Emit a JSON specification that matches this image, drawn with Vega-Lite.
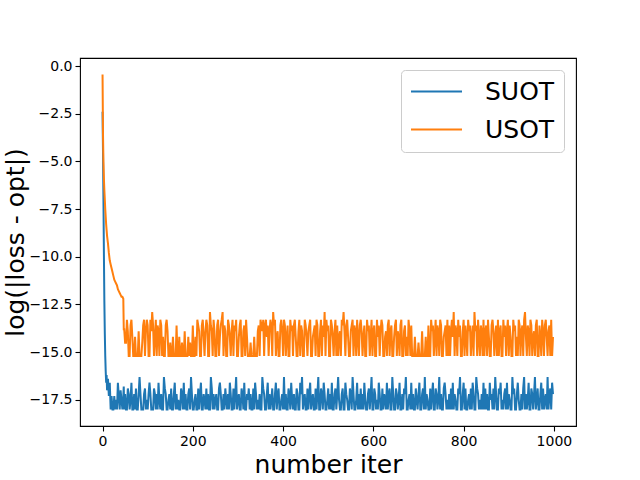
{
"$schema": "https://vega.github.io/schema/vega-lite/v6.json",
"autosize": {"type": "none"},
"padding": {"left": 80, "top": 58, "right": 64, "bottom": 54},
"width": 496,
"height": 368,
"background": "white",
"config": {"font": "DejaVu Sans", "view": {"stroke": "black", "strokeWidth": 1.1}},
"data": {"values": [
{"i":0,"SUOT":-2.4,"USOT":-0.45},{"i":1,"SUOT":-4.5,"USOT":-3.6},{"i":2,"SUOT":-7.0,"USOT":-5.0},{"i":3,"SUOT":-9.8,"USOT":-5.9},{"i":4,"SUOT":-12.3,"USOT":-6.5},{"i":5,"SUOT":-14.0,"USOT":-7.0},{"i":6,"SUOT":-15.2,"USOT":-7.5},{"i":7,"SUOT":-16.0,"USOT":-7.9},{"i":8,"SUOT":-16.6,"USOT":-8.3},{"i":9,"SUOT":-16.2,"USOT":-8.6},{"i":10,"SUOT":-17.0,"USOT":-8.9},{"i":12,"SUOT":-16.4,"USOT":-9.3},{"i":14,"SUOT":-17.3,"USOT":-9.8},{"i":16,"SUOT":-16.6,"USOT":-10.2},{"i":18,"SUOT":-18.0,"USOT":-10.4},{"i":20,"SUOT":-17.3,"USOT":-10.6},{"i":22,"SUOT":-18.0,"USOT":-10.8},{"i":24,"SUOT":-18.0,"USOT":-11.0},{"i":26,"SUOT":-17.3,"USOT":-11.2},{"i":28,"SUOT":-18.0,"USOT":-11.3},{"i":30,"SUOT":-17.5,"USOT":-11.4},{"i":32,"SUOT":-18.0,"USOT":-11.5},{"i":34,"SUOT":-16.6,"USOT":-11.7},{"i":36,"SUOT":-17.3,"USOT":-11.8},{"i":38,"SUOT":-18.0,"USOT":-11.9},{"i":40,"SUOT":-17.0,"USOT":-12.0},{"i":42,"SUOT":-17.5,"USOT":-12.1},{"i":44,"SUOT":-18.0,"USOT":-12.1},{"i":46,"SUOT":-17.3,"USOT":-12.2},{"i":47,"SUOT":-16.8,"USOT":-13.8},
{"i":48,"SUOT":-18,"USOT":-13.8},{"i":50,"SUOT":-17.2,"USOT":-14.5},{"i":52,"SUOT":-18,"USOT":-14.5},{"i":54,"SUOT":-18,"USOT":-13.3},{"i":56,"SUOT":-16.9,"USOT":-13.9},{"i":58,"SUOT":-17.2,"USOT":-15.2},{"i":60,"SUOT":-18,"USOT":-15.2},{"i":62,"SUOT":-17.5,"USOT":-13.6},{"i":64,"SUOT":-16.6,"USOT":-13.3},{"i":66,"SUOT":-18,"USOT":-14.2},{"i":68,"SUOT":-18,"USOT":-15.2},{"i":70,"SUOT":-17.2,"USOT":-15.2},{"i":72,"SUOT":-18,"USOT":-14.2},{"i":74,"SUOT":-16.9,"USOT":-15.2},{"i":76,"SUOT":-18,"USOT":-15.2},{"i":78,"SUOT":-18,"USOT":-15.2},{"i":80,"SUOT":-17.2,"USOT":-13.9},{"i":82,"SUOT":-16.3,"USOT":-15.2},{"i":84,"SUOT":-17.2,"USOT":-15.2},{"i":86,"SUOT":-18,"USOT":-15.2},
{"i":88,"SUOT":-18,"USOT":-14.5},{"i":90,"SUOT":-18,"USOT":-13.6},{"i":92,"SUOT":-17.2,"USOT":-13.3},{"i":94,"SUOT":-16.9,"USOT":-15.2},{"i":96,"SUOT":-18,"USOT":-13.9},{"i":98,"SUOT":-17.5,"USOT":-13.3},{"i":100,"SUOT":-18,"USOT":-13.6},{"i":102,"SUOT":-17.2,"USOT":-15.2},{"i":104,"SUOT":-16.6,"USOT":-15.2},{"i":106,"SUOT":-17.2,"USOT":-13.3},{"i":108,"SUOT":-18,"USOT":-13.9},{"i":110,"SUOT":-18,"USOT":-12.9},{"i":112,"SUOT":-18,"USOT":-13.6},{"i":114,"SUOT":-16.9,"USOT":-15.2},{"i":116,"SUOT":-17.2,"USOT":-14.2},{"i":118,"SUOT":-18,"USOT":-13.3},{"i":120,"SUOT":-17.2,"USOT":-15.2},{"i":122,"SUOT":-18,"USOT":-13.6},{"i":124,"SUOT":-16.6,"USOT":-13.9},{"i":126,"SUOT":-17.5,"USOT":-15.2},
{"i":128,"SUOT":-18,"USOT":-13.3},{"i":130,"SUOT":-17.2,"USOT":-13.6},{"i":132,"SUOT":-18,"USOT":-15.2},{"i":134,"SUOT":-18,"USOT":-14.2},{"i":136,"SUOT":-16.3,"USOT":-15.2},{"i":138,"SUOT":-16.9,"USOT":-15.2},{"i":140,"SUOT":-17.2,"USOT":-13.6},{"i":142,"SUOT":-18,"USOT":-13.3},{"i":144,"SUOT":-18,"USOT":-13.9},{"i":146,"SUOT":-17.5,"USOT":-15.2},{"i":148,"SUOT":-17.2,"USOT":-15.2},{"i":150,"SUOT":-18,"USOT":-14.5},{"i":152,"SUOT":-16.9,"USOT":-15.2},{"i":154,"SUOT":-18,"USOT":-15.2},{"i":156,"SUOT":-18,"USOT":-14.2},{"i":158,"SUOT":-17.2,"USOT":-15.2},{"i":160,"SUOT":-16.6,"USOT":-15.2},{"i":162,"SUOT":-18,"USOT":-15.2},{"i":164,"SUOT":-17.2,"USOT":-13.6},{"i":166,"SUOT":-18,"USOT":-15.2},
{"i":168,"SUOT":-17.5,"USOT":-15.2},{"i":170,"SUOT":-18,"USOT":-14.2},{"i":172,"SUOT":-18,"USOT":-15.2},{"i":174,"SUOT":-16.9,"USOT":-15.2},{"i":176,"SUOT":-17.2,"USOT":-14.5},{"i":178,"SUOT":-18,"USOT":-15.2},{"i":180,"SUOT":-16.6,"USOT":-15.2},{"i":182,"SUOT":-18,"USOT":-13.9},{"i":184,"SUOT":-17.2,"USOT":-15.2},{"i":186,"SUOT":-18,"USOT":-15.2},{"i":188,"SUOT":-18,"USOT":-15.2},{"i":190,"SUOT":-17.2,"USOT":-14.2},{"i":192,"SUOT":-16.9,"USOT":-15.2},{"i":194,"SUOT":-18,"USOT":-14.5},{"i":196,"SUOT":-16.3,"USOT":-15.2},{"i":198,"SUOT":-17.2,"USOT":-15.2},{"i":200,"SUOT":-18,"USOT":-13.6},{"i":202,"SUOT":-18,"USOT":-15.2},{"i":204,"SUOT":-17.5,"USOT":-15.2},{"i":206,"SUOT":-17.2,"USOT":-14.2},
{"i":208,"SUOT":-18,"USOT":-15.2},{"i":210,"SUOT":-18,"USOT":-13.3},{"i":212,"SUOT":-16.9,"USOT":-13.6},{"i":214,"SUOT":-18,"USOT":-13.9},{"i":216,"SUOT":-17.2,"USOT":-15.2},{"i":218,"SUOT":-16.6,"USOT":-15.2},{"i":220,"SUOT":-18,"USOT":-13.6},{"i":222,"SUOT":-18,"USOT":-13.3},{"i":224,"SUOT":-17.2,"USOT":-14.2},{"i":226,"SUOT":-17.5,"USOT":-15.2},{"i":228,"SUOT":-18,"USOT":-13.9},{"i":230,"SUOT":-16.9,"USOT":-13.3},{"i":232,"SUOT":-18,"USOT":-13.6},{"i":234,"SUOT":-17.2,"USOT":-15.2},{"i":236,"SUOT":-18,"USOT":-15.2},{"i":238,"SUOT":-18,"USOT":-12.9},{"i":240,"SUOT":-16.3,"USOT":-13.6},{"i":242,"SUOT":-16.9,"USOT":-13.9},{"i":244,"SUOT":-18,"USOT":-15.2},{"i":246,"SUOT":-17.2,"USOT":-13.3},
{"i":248,"SUOT":-18,"USOT":-13.9},{"i":250,"SUOT":-17.5,"USOT":-15.2},{"i":252,"SUOT":-17.2,"USOT":-15.2},{"i":254,"SUOT":-18,"USOT":-13.6},{"i":256,"SUOT":-18,"USOT":-13.3},{"i":258,"SUOT":-16.9,"USOT":-15.2},{"i":260,"SUOT":-16.6,"USOT":-14.2},{"i":262,"SUOT":-17.2,"USOT":-13.6},{"i":264,"SUOT":-18,"USOT":-13.3},{"i":266,"SUOT":-18,"USOT":-12.9},{"i":268,"SUOT":-17.2,"USOT":-15.2},{"i":270,"SUOT":-18,"USOT":-13.6},{"i":272,"SUOT":-16.9,"USOT":-13.9},{"i":274,"SUOT":-17.5,"USOT":-15.2},{"i":276,"SUOT":-18,"USOT":-15.2},{"i":278,"SUOT":-17.2,"USOT":-13.3},{"i":280,"SUOT":-18,"USOT":-13.6},{"i":282,"SUOT":-16.6,"USOT":-14.2},{"i":284,"SUOT":-17.2,"USOT":-15.2},{"i":286,"SUOT":-18,"USOT":-13.9},
{"i":288,"SUOT":-18,"USOT":-13.3},{"i":290,"SUOT":-16.9,"USOT":-15.2},{"i":292,"SUOT":-18,"USOT":-13.6},{"i":294,"SUOT":-17.2,"USOT":-13.9},{"i":296,"SUOT":-16.3,"USOT":-13.3},{"i":298,"SUOT":-18,"USOT":-15.2},{"i":300,"SUOT":-17.5,"USOT":-15.2},{"i":302,"SUOT":-17.2,"USOT":-14.2},{"i":304,"SUOT":-18,"USOT":-13.6},{"i":306,"SUOT":-18,"USOT":-13.3},{"i":308,"SUOT":-16.9,"USOT":-15.2},{"i":310,"SUOT":-17.2,"USOT":-15.2},{"i":312,"SUOT":-18,"USOT":-13.9},{"i":314,"SUOT":-16.6,"USOT":-13.6},{"i":316,"SUOT":-18,"USOT":-15.2},{"i":318,"SUOT":-18,"USOT":-13.3},{"i":320,"SUOT":-17.2,"USOT":-14.2},{"i":322,"SUOT":-17.5,"USOT":-15.2},{"i":324,"SUOT":-16.9,"USOT":-15.2},{"i":326,"SUOT":-18,"USOT":-15.2},
{"i":328,"SUOT":-17.2,"USOT":-14.5},{"i":330,"SUOT":-18,"USOT":-15.2},{"i":332,"SUOT":-18,"USOT":-15.2},{"i":334,"SUOT":-16.9,"USOT":-15.2},{"i":336,"SUOT":-18,"USOT":-14.2},{"i":338,"SUOT":-16.6,"USOT":-15.2},{"i":340,"SUOT":-17.2,"USOT":-15.2},{"i":342,"SUOT":-18,"USOT":-15.2},{"i":344,"SUOT":-17.5,"USOT":-13.9},{"i":346,"SUOT":-18,"USOT":-13.6},{"i":348,"SUOT":-17.2,"USOT":-15.2},{"i":350,"SUOT":-18,"USOT":-13.3},{"i":352,"SUOT":-18,"USOT":-13.6},{"i":354,"SUOT":-16.3,"USOT":-13.9},{"i":356,"SUOT":-16.9,"USOT":-13.3},{"i":358,"SUOT":-17.2,"USOT":-15.2},{"i":360,"SUOT":-18,"USOT":-13.6},{"i":362,"SUOT":-18,"USOT":-13.3},{"i":364,"SUOT":-17.2,"USOT":-14.2},{"i":366,"SUOT":-16.6,"USOT":-13.6},
{"i":368,"SUOT":-18,"USOT":-15.2},{"i":370,"SUOT":-17.2,"USOT":-13.9},{"i":372,"SUOT":-18,"USOT":-13.3},{"i":374,"SUOT":-17.5,"USOT":-13.6},{"i":376,"SUOT":-16.9,"USOT":-15.2},{"i":378,"SUOT":-18,"USOT":-12.9},{"i":380,"SUOT":-18,"USOT":-13.6},{"i":382,"SUOT":-17.2,"USOT":-13.3},{"i":384,"SUOT":-16.6,"USOT":-15.2},{"i":386,"SUOT":-18,"USOT":-14.2},{"i":388,"SUOT":-17.2,"USOT":-13.9},{"i":390,"SUOT":-16.9,"USOT":-15.2},{"i":392,"SUOT":-18,"USOT":-15.2},{"i":394,"SUOT":-18,"USOT":-13.6},{"i":396,"SUOT":-17.5,"USOT":-13.3},{"i":398,"SUOT":-17.2,"USOT":-13.9},{"i":400,"SUOT":-18,"USOT":-15.2},{"i":402,"SUOT":-16.3,"USOT":-13.3},{"i":404,"SUOT":-18,"USOT":-13.6},{"i":406,"SUOT":-17.2,"USOT":-15.2},
{"i":408,"SUOT":-18,"USOT":-14.2},{"i":410,"SUOT":-18,"USOT":-13.6},{"i":412,"SUOT":-16.9,"USOT":-15.2},{"i":414,"SUOT":-17.2,"USOT":-15.2},{"i":416,"SUOT":-18,"USOT":-13.3},{"i":418,"SUOT":-16.6,"USOT":-13.9},{"i":420,"SUOT":-17.5,"USOT":-13.6},{"i":422,"SUOT":-18,"USOT":-15.2},{"i":424,"SUOT":-17.2,"USOT":-13.6},{"i":426,"SUOT":-18,"USOT":-13.3},{"i":428,"SUOT":-18,"USOT":-14.2},{"i":430,"SUOT":-16.9,"USOT":-15.2},{"i":432,"SUOT":-17.2,"USOT":-15.2},{"i":434,"SUOT":-18,"USOT":-13.9},{"i":436,"SUOT":-18,"USOT":-13.3},{"i":438,"SUOT":-16.6,"USOT":-15.2},{"i":440,"SUOT":-17.2,"USOT":-13.6},{"i":442,"SUOT":-16.3,"USOT":-13.9},{"i":444,"SUOT":-18,"USOT":-15.2},{"i":446,"SUOT":-17.5,"USOT":-15.2},
{"i":448,"SUOT":-17.2,"USOT":-13.3},{"i":450,"SUOT":-18,"USOT":-13.6},{"i":452,"SUOT":-18,"USOT":-14.2},{"i":454,"SUOT":-16.9,"USOT":-15.2},{"i":456,"SUOT":-18,"USOT":-13.9},{"i":458,"SUOT":-17.2,"USOT":-13.6},{"i":460,"SUOT":-16.6,"USOT":-13.3},{"i":462,"SUOT":-18,"USOT":-15.2},{"i":464,"SUOT":-17.5,"USOT":-15.2},{"i":466,"SUOT":-17.2,"USOT":-14.2},{"i":468,"SUOT":-18,"USOT":-13.9},{"i":470,"SUOT":-18,"USOT":-13.6},{"i":472,"SUOT":-16.9,"USOT":-15.2},{"i":474,"SUOT":-18,"USOT":-13.3},{"i":476,"SUOT":-17.2,"USOT":-13.6},{"i":478,"SUOT":-16.3,"USOT":-15.2},{"i":480,"SUOT":-18,"USOT":-15.2},{"i":482,"SUOT":-18,"USOT":-13.9},{"i":484,"SUOT":-16.9,"USOT":-13.3},{"i":486,"SUOT":-17.2,"USOT":-15.2},
{"i":488,"SUOT":-18,"USOT":-13.6},{"i":490,"SUOT":-16.6,"USOT":-14.2},{"i":492,"SUOT":-17.2,"USOT":-12.9},{"i":494,"SUOT":-18,"USOT":-15.2},{"i":496,"SUOT":-18,"USOT":-13.3},{"i":498,"SUOT":-17.5,"USOT":-13.9},{"i":500,"SUOT":-16.9,"USOT":-13.6},{"i":502,"SUOT":-18,"USOT":-15.2},{"i":504,"SUOT":-17.2,"USOT":-15.2},{"i":506,"SUOT":-18,"USOT":-13.3},{"i":508,"SUOT":-16.6,"USOT":-13.6},{"i":510,"SUOT":-18,"USOT":-14.2},{"i":512,"SUOT":-18,"USOT":-15.2},{"i":514,"SUOT":-17.2,"USOT":-13.9},{"i":516,"SUOT":-16.9,"USOT":-13.3},{"i":518,"SUOT":-18,"USOT":-15.2},{"i":520,"SUOT":-17.2,"USOT":-13.6},{"i":522,"SUOT":-16.3,"USOT":-15.2},{"i":524,"SUOT":-17.5,"USOT":-14.2},{"i":526,"SUOT":-18,"USOT":-13.9},
{"i":528,"SUOT":-18,"USOT":-15.2},{"i":530,"SUOT":-17.2,"USOT":-13.3},{"i":532,"SUOT":-16.9,"USOT":-13.6},{"i":534,"SUOT":-18,"USOT":-12.9},{"i":536,"SUOT":-18,"USOT":-13.9},{"i":538,"SUOT":-16.6,"USOT":-15.2},{"i":540,"SUOT":-17.2,"USOT":-13.6},{"i":542,"SUOT":-17.5,"USOT":-13.3},{"i":544,"SUOT":-18,"USOT":-14.2},{"i":546,"SUOT":-18,"USOT":-15.2},{"i":548,"SUOT":-16.9,"USOT":-15.2},{"i":550,"SUOT":-17.2,"USOT":-13.9},{"i":552,"SUOT":-18,"USOT":-13.6},{"i":554,"SUOT":-16.3,"USOT":-13.3},{"i":556,"SUOT":-17.2,"USOT":-15.2},{"i":558,"SUOT":-18,"USOT":-13.6},{"i":560,"SUOT":-18,"USOT":-13.9},{"i":562,"SUOT":-17.5,"USOT":-15.2},{"i":564,"SUOT":-16.6,"USOT":-13.3},{"i":566,"SUOT":-18,"USOT":-14.2},
{"i":568,"SUOT":-17.2,"USOT":-15.2},{"i":570,"SUOT":-18,"USOT":-13.6},{"i":572,"SUOT":-16.9,"USOT":-13.3},{"i":574,"SUOT":-18,"USOT":-13.9},{"i":576,"SUOT":-17.2,"USOT":-15.2},{"i":578,"SUOT":-18,"USOT":-14.2},{"i":580,"SUOT":-16.6,"USOT":-13.6},{"i":582,"SUOT":-17.5,"USOT":-15.2},{"i":584,"SUOT":-18,"USOT":-15.2},{"i":586,"SUOT":-18,"USOT":-13.3},{"i":588,"SUOT":-17.2,"USOT":-13.9},{"i":590,"SUOT":-16.9,"USOT":-13.6},{"i":592,"SUOT":-18,"USOT":-15.2},{"i":594,"SUOT":-17.2,"USOT":-14.2},{"i":596,"SUOT":-16.3,"USOT":-13.3},{"i":598,"SUOT":-18,"USOT":-15.2},{"i":600,"SUOT":-18,"USOT":-13.9},{"i":602,"SUOT":-16.9,"USOT":-13.6},{"i":604,"SUOT":-17.2,"USOT":-15.2},{"i":606,"SUOT":-18,"USOT":-15.2},
{"i":608,"SUOT":-17.5,"USOT":-13.3},{"i":610,"SUOT":-18,"USOT":-14.2},{"i":612,"SUOT":-16.6,"USOT":-13.6},{"i":614,"SUOT":-17.2,"USOT":-15.2},{"i":616,"SUOT":-18,"USOT":-13.9},{"i":618,"SUOT":-18,"USOT":-13.3},{"i":620,"SUOT":-16.9,"USOT":-13.6},{"i":622,"SUOT":-18,"USOT":-15.2},{"i":624,"SUOT":-17.2,"USOT":-15.2},{"i":626,"SUOT":-17.5,"USOT":-14.2},{"i":628,"SUOT":-18,"USOT":-13.9},{"i":630,"SUOT":-16.6,"USOT":-15.2},{"i":632,"SUOT":-18,"USOT":-13.6},{"i":634,"SUOT":-17.2,"USOT":-13.3},{"i":636,"SUOT":-16.9,"USOT":-15.2},{"i":638,"SUOT":-18,"USOT":-13.9},{"i":640,"SUOT":-18,"USOT":-13.6},{"i":642,"SUOT":-16.3,"USOT":-15.2},{"i":644,"SUOT":-17.2,"USOT":-15.2},{"i":646,"SUOT":-18,"USOT":-14.2},
{"i":648,"SUOT":-18,"USOT":-13.6},{"i":650,"SUOT":-16.9,"USOT":-13.3},{"i":652,"SUOT":-17.2,"USOT":-15.2},{"i":654,"SUOT":-18,"USOT":-13.9},{"i":656,"SUOT":-17.5,"USOT":-14.2},{"i":658,"SUOT":-16.6,"USOT":-15.2},{"i":660,"SUOT":-18,"USOT":-13.6},{"i":662,"SUOT":-18,"USOT":-13.3},{"i":664,"SUOT":-17.2,"USOT":-15.2},{"i":666,"SUOT":-18,"USOT":-15.2},{"i":668,"SUOT":-16.9,"USOT":-13.9},{"i":670,"SUOT":-17.2,"USOT":-13.6},{"i":672,"SUOT":-16.3,"USOT":-15.2},{"i":674,"SUOT":-18,"USOT":-14.2},{"i":676,"SUOT":-18,"USOT":-15.2},{"i":678,"SUOT":-17.5,"USOT":-13.3},{"i":680,"SUOT":-17.2,"USOT":-13.9},{"i":682,"SUOT":-18,"USOT":-15.2},{"i":684,"SUOT":-16.6,"USOT":-13.6},{"i":686,"SUOT":-18,"USOT":-15.2},
{"i":688,"SUOT":-17.2,"USOT":-15.2},{"i":690,"SUOT":-18,"USOT":-15.2},{"i":692,"SUOT":-18,"USOT":-14.2},{"i":694,"SUOT":-16.9,"USOT":-15.2},{"i":696,"SUOT":-17.5,"USOT":-15.2},{"i":698,"SUOT":-18,"USOT":-15.2},{"i":700,"SUOT":-17.2,"USOT":-14.5},{"i":702,"SUOT":-16.6,"USOT":-15.2},{"i":704,"SUOT":-18,"USOT":-15.2},{"i":706,"SUOT":-18,"USOT":-15.2},{"i":708,"SUOT":-17.2,"USOT":-13.9},{"i":710,"SUOT":-16.9,"USOT":-15.2},{"i":712,"SUOT":-18,"USOT":-15.2},{"i":714,"SUOT":-16.3,"USOT":-15.2},{"i":716,"SUOT":-18,"USOT":-14.2},{"i":718,"SUOT":-17.2,"USOT":-15.2},{"i":720,"SUOT":-17.5,"USOT":-15.2},{"i":722,"SUOT":-18,"USOT":-13.6},{"i":724,"SUOT":-18,"USOT":-15.2},{"i":726,"SUOT":-16.9,"USOT":-15.2},
{"i":728,"SUOT":-18,"USOT":-13.3},{"i":730,"SUOT":-17.2,"USOT":-13.9},{"i":732,"SUOT":-16.6,"USOT":-13.6},{"i":734,"SUOT":-18,"USOT":-15.2},{"i":736,"SUOT":-18,"USOT":-14.2},{"i":738,"SUOT":-16.9,"USOT":-13.3},{"i":740,"SUOT":-17.2,"USOT":-15.2},{"i":742,"SUOT":-18,"USOT":-13.6},{"i":744,"SUOT":-17.5,"USOT":-13.9},{"i":746,"SUOT":-16.3,"USOT":-15.2},{"i":748,"SUOT":-18,"USOT":-13.3},{"i":750,"SUOT":-17.2,"USOT":-13.6},{"i":752,"SUOT":-18,"USOT":-15.2},{"i":754,"SUOT":-18,"USOT":-15.2},{"i":756,"SUOT":-16.9,"USOT":-14.2},{"i":758,"SUOT":-16.6,"USOT":-13.9},{"i":760,"SUOT":-17.2,"USOT":-13.6},{"i":762,"SUOT":-18,"USOT":-15.2},{"i":764,"SUOT":-17.5,"USOT":-13.3},{"i":766,"SUOT":-18,"USOT":-15.2},
{"i":768,"SUOT":-17.2,"USOT":-13.6},{"i":770,"SUOT":-18,"USOT":-15.2},{"i":772,"SUOT":-16.9,"USOT":-13.9},{"i":774,"SUOT":-18,"USOT":-13.3},{"i":776,"SUOT":-16.6,"USOT":-14.2},{"i":778,"SUOT":-18,"USOT":-12.9},{"i":780,"SUOT":-17.2,"USOT":-15.2},{"i":782,"SUOT":-17.5,"USOT":-13.6},{"i":784,"SUOT":-18,"USOT":-13.9},{"i":786,"SUOT":-18,"USOT":-15.2},{"i":788,"SUOT":-16.9,"USOT":-13.3},{"i":790,"SUOT":-17.2,"USOT":-14.2},{"i":792,"SUOT":-16.3,"USOT":-13.6},{"i":794,"SUOT":-18,"USOT":-15.2},{"i":796,"SUOT":-18,"USOT":-15.2},{"i":798,"SUOT":-17.2,"USOT":-13.9},{"i":800,"SUOT":-16.6,"USOT":-13.3},{"i":802,"SUOT":-18,"USOT":-15.2},{"i":804,"SUOT":-16.9,"USOT":-13.6},{"i":806,"SUOT":-18,"USOT":-14.2},
{"i":808,"SUOT":-18,"USOT":-15.2},{"i":810,"SUOT":-17.5,"USOT":-13.3},{"i":812,"SUOT":-17.2,"USOT":-13.9},{"i":814,"SUOT":-18,"USOT":-13.6},{"i":816,"SUOT":-16.9,"USOT":-15.2},{"i":818,"SUOT":-18,"USOT":-14.2},{"i":820,"SUOT":-16.6,"USOT":-13.6},{"i":822,"SUOT":-17.2,"USOT":-15.2},{"i":824,"SUOT":-18,"USOT":-12.9},{"i":826,"SUOT":-18,"USOT":-13.9},{"i":828,"SUOT":-16.3,"USOT":-13.6},{"i":830,"SUOT":-16.9,"USOT":-15.2},{"i":832,"SUOT":-17.2,"USOT":-13.3},{"i":834,"SUOT":-18,"USOT":-14.2},{"i":836,"SUOT":-17.5,"USOT":-15.2},{"i":838,"SUOT":-18,"USOT":-13.6},{"i":840,"SUOT":-17.2,"USOT":-13.9},{"i":842,"SUOT":-18,"USOT":-15.2},{"i":844,"SUOT":-16.6,"USOT":-13.3},{"i":846,"SUOT":-18,"USOT":-15.2},
{"i":848,"SUOT":-16.9,"USOT":-13.9},{"i":850,"SUOT":-18,"USOT":-13.6},{"i":852,"SUOT":-17.2,"USOT":-15.2},{"i":854,"SUOT":-18,"USOT":-13.3},{"i":856,"SUOT":-18,"USOT":-14.2},{"i":858,"SUOT":-16.6,"USOT":-15.2},{"i":860,"SUOT":-17.5,"USOT":-15.2},{"i":862,"SUOT":-17.2,"USOT":-13.6},{"i":864,"SUOT":-18,"USOT":-13.3},{"i":866,"SUOT":-16.9,"USOT":-13.9},{"i":868,"SUOT":-18,"USOT":-15.2},{"i":870,"SUOT":-16.3,"USOT":-14.2},{"i":872,"SUOT":-17.2,"USOT":-13.6},{"i":874,"SUOT":-18,"USOT":-15.2},{"i":876,"SUOT":-18,"USOT":-13.3},{"i":878,"SUOT":-16.9,"USOT":-15.2},{"i":880,"SUOT":-17.2,"USOT":-13.9},{"i":882,"SUOT":-16.6,"USOT":-13.6},{"i":884,"SUOT":-18,"USOT":-15.2},{"i":886,"SUOT":-17.5,"USOT":-15.2},
{"i":888,"SUOT":-18,"USOT":-13.3},{"i":890,"SUOT":-17.2,"USOT":-14.2},{"i":892,"SUOT":-16.9,"USOT":-13.6},{"i":894,"SUOT":-18,"USOT":-15.2},{"i":896,"SUOT":-16.6,"USOT":-13.9},{"i":898,"SUOT":-18,"USOT":-13.3},{"i":900,"SUOT":-17.2,"USOT":-15.2},{"i":902,"SUOT":-17.5,"USOT":-13.6},{"i":904,"SUOT":-18,"USOT":-14.2},{"i":906,"SUOT":-18,"USOT":-15.2},{"i":908,"SUOT":-16.3,"USOT":-15.2},{"i":910,"SUOT":-17.2,"USOT":-13.3},{"i":912,"SUOT":-16.9,"USOT":-13.9},{"i":914,"SUOT":-18,"USOT":-13.6},{"i":916,"SUOT":-18,"USOT":-15.2},{"i":918,"SUOT":-17.2,"USOT":-14.2},{"i":920,"SUOT":-16.6,"USOT":-15.2},{"i":922,"SUOT":-17.5,"USOT":-13.3},{"i":924,"SUOT":-18,"USOT":-13.6},{"i":926,"SUOT":-18,"USOT":-15.2},
{"i":928,"SUOT":-17.2,"USOT":-13.9},{"i":930,"SUOT":-18,"USOT":-13.6},{"i":932,"SUOT":-16.9,"USOT":-15.2},{"i":934,"SUOT":-16.3,"USOT":-13.3},{"i":936,"SUOT":-18,"USOT":-12.9},{"i":938,"SUOT":-17.2,"USOT":-14.2},{"i":940,"SUOT":-18,"USOT":-15.2},{"i":942,"SUOT":-17.5,"USOT":-13.6},{"i":944,"SUOT":-16.6,"USOT":-13.9},{"i":946,"SUOT":-18,"USOT":-15.2},{"i":948,"SUOT":-18,"USOT":-13.3},{"i":950,"SUOT":-16.9,"USOT":-13.6},{"i":952,"SUOT":-17.2,"USOT":-15.2},{"i":954,"SUOT":-18,"USOT":-14.2},{"i":956,"SUOT":-17.2,"USOT":-13.9},{"i":958,"SUOT":-16.3,"USOT":-15.2},{"i":960,"SUOT":-18,"USOT":-13.6},{"i":962,"SUOT":-17.5,"USOT":-13.3},{"i":964,"SUOT":-16.9,"USOT":-15.2},{"i":966,"SUOT":-18,"USOT":-15.2},
{"i":968,"SUOT":-18,"USOT":-13.6},{"i":970,"SUOT":-17.2,"USOT":-14.2},{"i":972,"SUOT":-16.6,"USOT":-15.2},{"i":974,"SUOT":-18,"USOT":-13.3},{"i":976,"SUOT":-16.9,"USOT":-13.9},{"i":978,"SUOT":-18,"USOT":-15.2},{"i":980,"SUOT":-17.5,"USOT":-13.6},{"i":982,"SUOT":-17.2,"USOT":-13.3},{"i":984,"SUOT":-18,"USOT":-14.2},{"i":986,"SUOT":-16.3,"USOT":-15.2},{"i":988,"SUOT":-18,"USOT":-13.9},{"i":990,"SUOT":-17.2,"USOT":-13.6},{"i":992,"SUOT":-16.9,"USOT":-15.2},{"i":994,"SUOT":-18,"USOT":-13.3},{"i":996,"SUOT":-16.6,"USOT":-15.2},{"i":998,"SUOT":-17.2,"USOT":-14.2}
]},
"transform": [{"fold": ["SUOT", "USOT"], "as": ["series", "value"]}],
"mark": {"type": "line", "strokeWidth": 2, "clip": true},
"encoding": {
"x": {"field": "i", "type": "quantitative", "scale": {"domain": [-49.95, 1048.95], "nice": false, "zero": false},
  "axis": {"title": "number iter", "values": [0, 200, 400, 600, 800, 1000], "format": "d", "grid": false, "domain": false, "tickColor": "black", "tickSize": 5, "tickWidth": 1.1, "labelColor": "black", "labelFontSize": 14, "labelPadding": 3, "titleFontSize": 25, "titleFontWeight": "normal", "titleColor": "black", "titlePadding": 4}},
"y": {"field": "value", "type": "quantitative", "scale": {"domain": [-18.87, 0.42], "nice": false, "zero": false},
  "axis": {"title": "log(|loss - opt|)", "values": [0, -2.5, -5, -7.5, -10, -12.5, -15, -17.5], "format": ".1f", "grid": false, "domain": false, "tickColor": "black", "tickSize": 5, "tickWidth": 1.1, "labelColor": "black", "labelFontSize": 14, "labelPadding": 3, "titleFontSize": 25, "titleFontWeight": "normal", "titleColor": "black", "titlePadding": 1}},
"color": {"field": "series", "type": "nominal", "scale": {"domain": ["SUOT", "USOT"], "range": ["#1f77b4", "#ff7f0e"]},
  "legend": {"title": null, "orient": "top-right", "offset": 12, "labelFontSize": 25, "labelColor": "black", "symbolType": "stroke", "symbolSize": 2601, "symbolStrokeWidth": 2, "labelOffset": 22, "clipHeight": 25, "rowPadding": 12, "padding": 9, "strokeColor": "#cccccc", "fillColor": "white", "cornerRadius": 4}},
"order": {"field": "i", "type": "quantitative"}
}
}
